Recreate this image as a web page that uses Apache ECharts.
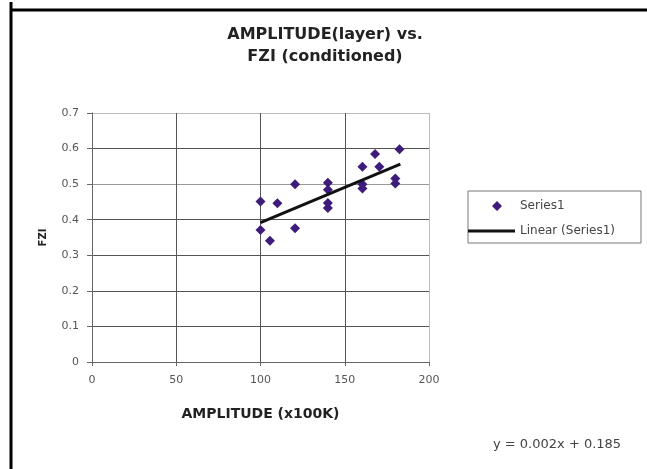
<!DOCTYPE html>
<html><head><meta charset="utf-8">
<script src="https://cdn.jsdelivr.net/npm/echarts@6/dist/echarts.min.js"></script>
<style>html,body{margin:0;padding:0;background:#fff}#c{width:647px;height:469px}</style>
</head><body><div id="c"></div>
<script>
const amplitude = [100, 110, 120.5, 100, 105.6, 120.5, 140, 140, 140, 140, 160.5, 160.5, 160.5, 168, 170.5, 182.5, 180, 180];
const fzi = [0.451, 0.446, 0.500, 0.371, 0.341, 0.376, 0.504, 0.484, 0.447, 0.433, 0.549, 0.488, 0.500, 0.585, 0.549, 0.598, 0.516, 0.502];
const trendX = [100, 183];
const trendY = [0.392, 0.556];
const xTicks = [0, 50, 100, 150, 200];
const yTicks = [0, 0.1, 0.2, 0.3, 0.4, 0.5, 0.6, 0.7];
const titleText = 'AMPLITUDE(layer) vs.\nFZI (conditioned)';
const equationText = 'y = 0.002x + 0.185';

const font = "'DejaVu Sans','Liberation Sans',Arial,sans-serif";
const chart = echarts.init(document.getElementById('c'), null, {renderer: 'canvas'});
chart.setOption({
  backgroundColor: '#fff',
  animation: false,
  title: {
    text: titleText, left: 320, top: 19, textAlign: 'center',
    textStyle: {fontFamily: font, fontSize: 16, fontWeight: 'bold', color: '#222', lineHeight: 22}
  },
  grid: {left: 92, top: 113, width: 337, height: 249, containLabel: false},
  xAxis: {
    type: 'value', min: xTicks[0], max: xTicks[xTicks.length - 1], interval: 50,
    name: 'AMPLITUDE (x100K)', nameLocation: 'middle', nameGap: 45,
    nameTextStyle: {fontFamily: font, fontSize: 14, fontWeight: 'bold', color: '#222'},
    axisLine: {show: true, onZero: false, lineStyle: {color: '#666', width: 1}},
    axisTick: {show: true, length: 4, lineStyle: {color: '#666'}},
    axisLabel: {margin: 13, fontFamily: font, fontSize: 11, color: '#555'},
    splitLine: {show: true, lineStyle: {color: ['#555', '#555', '#555', '#555', '#bbb'], width: 1}}
  },
  yAxis: {
    type: 'value', min: yTicks[0], max: yTicks[yTicks.length - 1], interval: 0.1,
    name: 'FZI', nameLocation: 'middle', nameGap: 44, nameRotate: 90,
    nameTextStyle: {fontFamily: font, fontSize: 10, fontWeight: 'bold', color: '#222'},
    axisLine: {show: true, onZero: false, lineStyle: {color: '#666', width: 1}},
    axisTick: {show: true, length: 5, lineStyle: {color: '#666'}},
    axisLabel: {margin: 13, fontFamily: font, fontSize: 11, color: '#555',
      formatter: v => String(Math.round(v * 10) / 10)},
    splitLine: {show: true, lineStyle: {color: ['#555', '#555', '#555', '#555', '#555', '#999', '#555', '#bbb'], width: 1}}
  },
  legend: {
    orient: 'vertical', left: 468, top: 191,
    padding: [9, 26, 6, 0], itemGap: 13, itemWidth: 47, itemHeight: 10,
    borderColor: '#777', borderWidth: 1, symbolKeepAspect: true,
    textStyle: {fontFamily: font, fontSize: 12, color: '#444'},
    data: [
      {name: 'Series1', icon: 'path://M29,0L34,5L29,10L24,5Z M0,5L0,5Z M47,5L47,5Z'},
      {name: 'Linear (Series1)', icon: 'path://M0,0H47V3H0Z'}
    ]
  },
  series: [
    {
      name: 'Series1', type: 'scatter', symbol: 'diamond', symbolSize: 10,
      itemStyle: {color: '#3d1c7c', opacity: 1},
      data: amplitude.map((a, i) => [a, fzi[i]])
    },
    {
      name: 'Linear (Series1)', type: 'line', symbol: 'none', showSymbol: false,
      lineStyle: {color: '#111', width: 3}, itemStyle: {color: '#111'},
      data: trendX.map((a, i) => [a, trendY[i]])
    }
  ],
  graphic: [
    {type: 'line', shape: {x1: 11, y1: 2, x2: 11, y2: 469}, style: {stroke: '#000', lineWidth: 3}},
    {type: 'line', shape: {x1: 10, y1: 10, x2: 647, y2: 10}, style: {stroke: '#000', lineWidth: 3}},
    {type: 'text', left: 493, top: 438, style: {text: equationText, font: '13px ' + font, fill: '#444'}}
  ]
});
</script></body></html>
